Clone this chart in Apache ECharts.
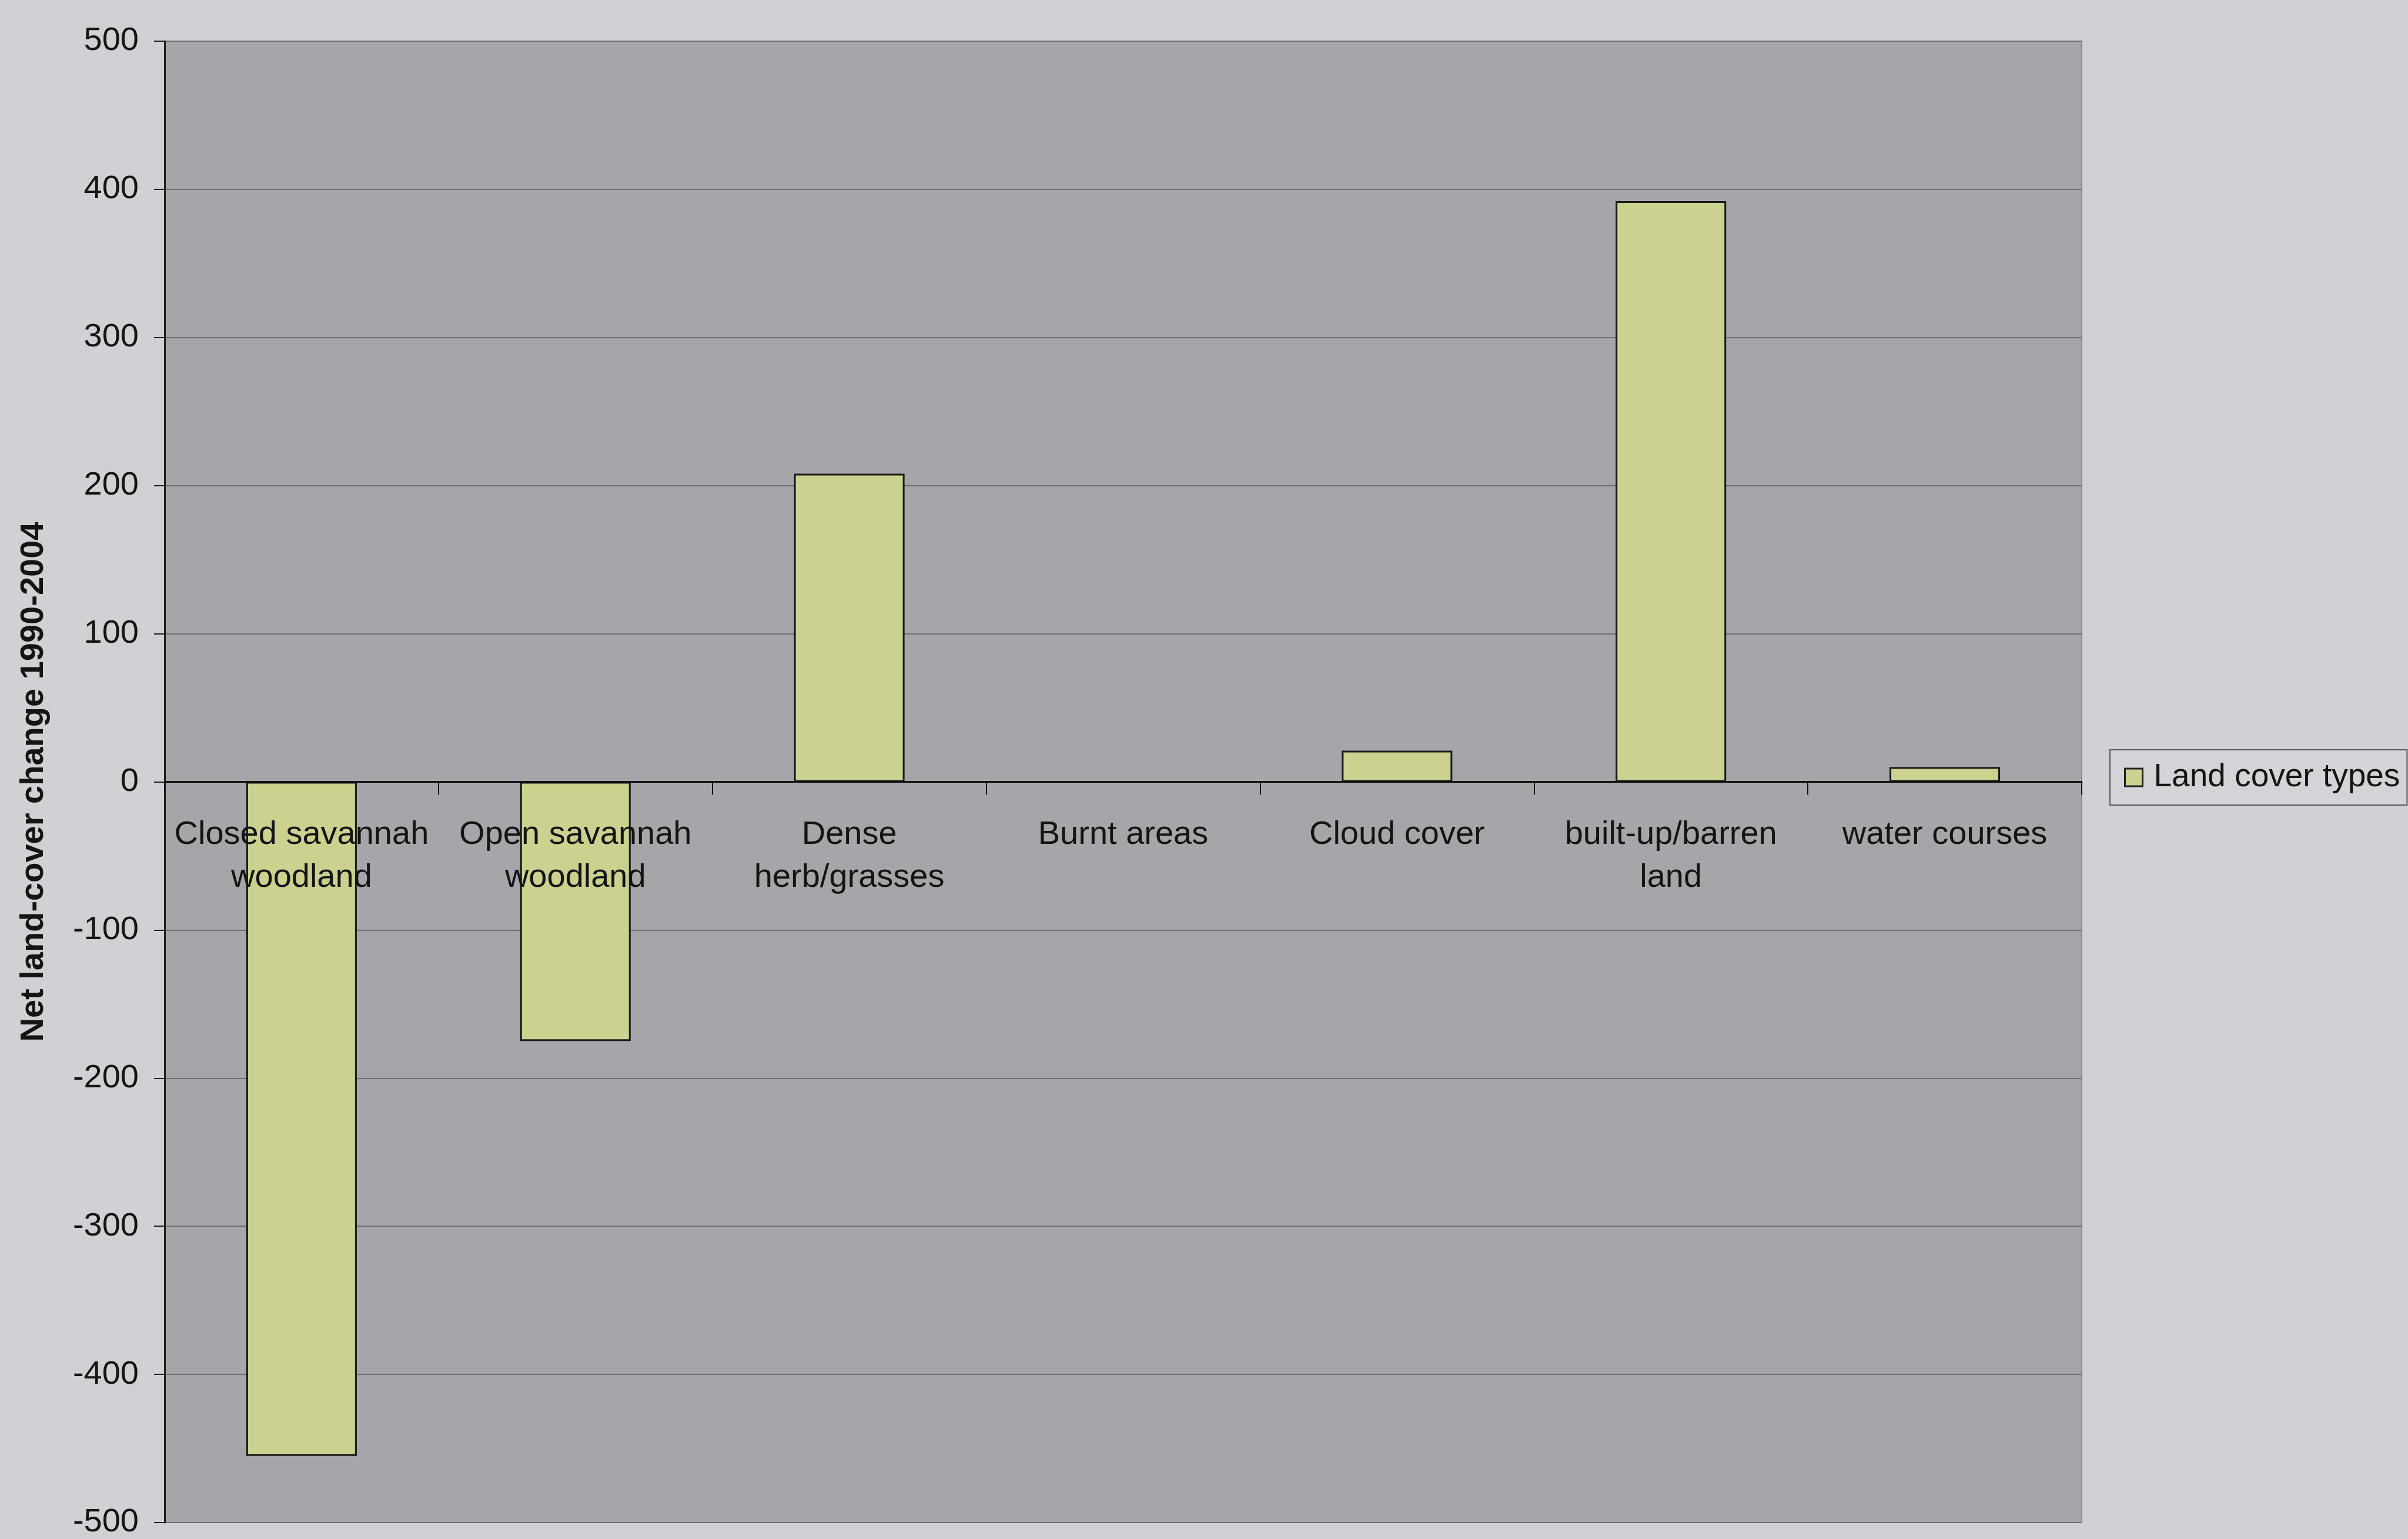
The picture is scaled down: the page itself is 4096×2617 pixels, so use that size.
<!DOCTYPE html>
<html>
<head>
<meta charset="utf-8">
<title>Net land-cover change 1990-2004</title>
<script src="https://cdn.jsdelivr.net/npm/echarts@6/dist/echarts.min.js"></script>
<style>
  html, body { margin: 0; padding: 0; background: #d1d0d5; }
  #chart { width: 4096px; height: 2617px; }
</style>
</head>
<body>
<div id="chart"></div>
<script>
// Land-cover classes along the horizontal axis
const categories = [
  'Closed savannah\nwoodland',
  'Open savannah\nwoodland',
  'Dense\nherb/grasses',
  'Burnt areas',
  'Cloud cover',
  'built-up/barren\nland',
  'water courses'
];

// Net change per class, 1990-2004
const netChange = [-455, -175, 208, 0, 21, 392, 10];

const seriesName = 'Land cover types';
const yAxisTitle = 'Net land-cover change 1990-2004';
const yMin = -500, yMax = 500, yStep = 100;

const FONT = '"Liberation Sans", Arial, sans-serif';
const TEXT = '#141414';

const GRID = { left: 280, right: 555, top: 70, bottom: 28 };
const PLOT_H = 2617 - GRID.top - GRID.bottom;
// distance from the bottom of the plot up to the zero line;
// category labels sit just under the zero line, so pull them up by this much
const ZERO_RISE = PLOT_H * (0 - yMin) / (yMax - yMin);
const LABEL_GAP = 54;

const chart = echarts.init(document.getElementById('chart'), null, { renderer: 'canvas' });

chart.setOption({
  backgroundColor: '#d1d0d5',
  animation: false,
  textStyle: { fontFamily: FONT },
  grid: Object.assign({}, GRID, {
    outerBoundsMode: 'none',
    containLabel: false,
    show: true,
    backgroundColor: '#a6a5aa',
    borderColor: '#8c8c90',
    borderWidth: 2
  }),
  legend: {
    data: [seriesName],
    left: 3589,
    top: 1275,
    orient: 'vertical',
    icon: 'rect',
    itemWidth: 30,
    itemHeight: 30,
    padding: [19, 12, 19, 24],
    backgroundColor: '#d4d3d8',
    borderColor: '#5a5a5e',
    borderWidth: 2,
    itemStyle: { borderColor: '#222', borderWidth: 3 },
    textStyle: { fontFamily: FONT, fontSize: 55, lineHeight: 56, color: TEXT, padding: [0, 0, 0, 14] }
  },
  xAxis: {
    type: 'category',
    data: categories,
    z: 10,
    axisLine: { show: true, onZero: true, lineStyle: { color: '#111', width: 3 } },
    axisTick: { show: true, length: 22, lineStyle: { color: '#111', width: 2 } },
    axisLabel: {
      interval: 0,
      fontFamily: FONT,
      fontSize: 56,
      lineHeight: 73,
      margin: LABEL_GAP - ZERO_RISE,
      color: TEXT
    },
    splitLine: { show: false }
  },
  yAxis: {
    type: 'value',
    min: yMin,
    max: yMax,
    interval: yStep,
    name: yAxisTitle,
    nameLocation: 'middle',
    nameGap: 194,
    nameTextStyle: { fontFamily: FONT, fontSize: 56, fontWeight: 'bold', color: TEXT },
    axisLine: { show: true, lineStyle: { color: '#1e1e1e', width: 3 } },
    axisTick: { show: true, length: 18, lineStyle: { color: '#1e1e1e', width: 2 } },
    axisLabel: { fontFamily: FONT, fontSize: 56, margin: 44, color: TEXT },
    splitLine: { show: true, lineStyle: { color: '#6f6f73', width: 2 } }
  },
  series: [{
    name: seriesName,
    type: 'bar',
    data: netChange,
    barWidth: 188,
    itemStyle: { color: '#ccd18f', borderColor: '#1a1a1a', borderWidth: 3 }
  }]
});
</script>
</body>
</html>
